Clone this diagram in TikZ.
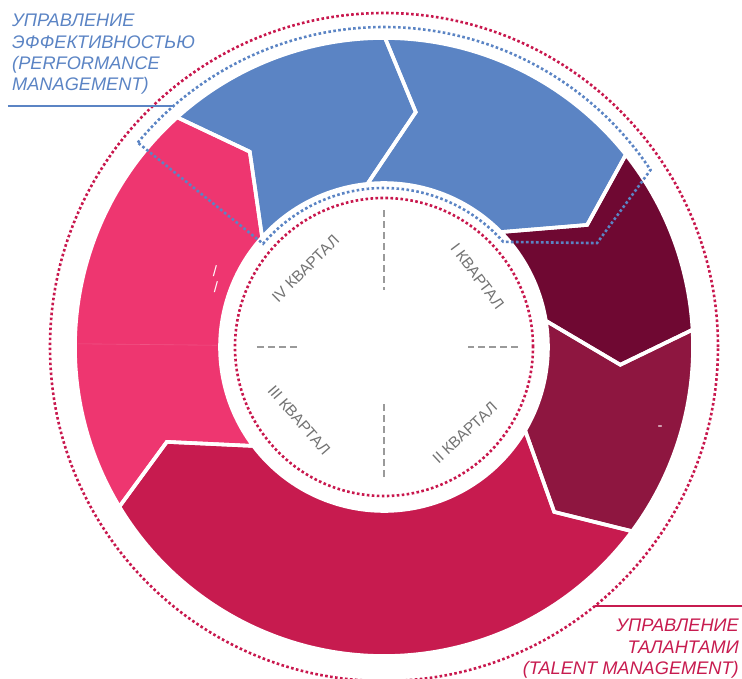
\documentclass[tikz,border=0pt]{standalone}
\usepackage{fontspec}
\setmainfont{Liberation Sans}
\usetikzlibrary{positioning}
\definecolor{perfblue}{HTML}{5B84C4}
\definecolor{winedark}{HTML}{6F0832}
\definecolor{wine}{HTML}{8E1640}
\definecolor{crimson}{HTML}{C71B4F}
\definecolor{rose}{HTML}{EE3670}
\definecolor{dotred}{HTML}{C8174D}
\definecolor{labelgray}{HTML}{737373}
\definecolor{crossgray}{HTML}{9A9A9A}

\begin{document}
\begin{tikzpicture}[x=1pt,y=1pt,
        sep/.style={draw=white,line width=3.6pt,line join=miter},
        reddots/.style={draw=dotred,line width=2.6pt,dash pattern=on 2.6pt off 2.4pt},
        bluedots/.style={draw=perfblue,line width=2.6pt,dash pattern=on 2.6pt off 2.4pt},
        cross/.style={draw=crossgray,line width=1.4pt,dash pattern=on 7pt off 4pt},
        quarter/.style={text=labelgray,font=\fontsize{15.5}{18}\selectfont,inner sep=0pt},
        heading/.style={font=\fontsize{18.2}{21.3}\selectfont\itshape,inner sep=0pt},
        ghost/.style={text=white,font=\fontsize{15}{18}\selectfont,inner sep=0pt}]

        \useasboundingbox (-384,-331) rectangle (358,347);

        % ring of chevrons, clockwise
        \foreach \from/\to/\col in {132/89.8/perfblue, 89.8/38.5/perfblue, 38.5/3.2/winedark,
                3.2/-36.6/wine, -36.6/-148.9/crimson, 211.1/132/rose}
            \fill[\col] (\from:309) arc[start angle=\from, end angle=\to, radius=309]
                -- ({\to-7.5}:237) -- ({\to+6}:164) arc[start angle={\to+6}, end angle={\from+6}, radius=164]
                -- ({\from-7.5}:237) -- cycle;
        \foreach \from/\to in {132/89.8, 89.8/38.5, 38.5/3.2, 3.2/-36.6, -36.6/-148.9, 211.1/132}
            \draw[sep] (\from:309) arc[start angle=\from, end angle=\to, radius=309]
                -- ({\to-7.5}:237) -- ({\to+6}:164) arc[start angle={\to+6}, end angle={\from+6}, radius=164]
                -- ({\from-7.5}:237) -- cycle;
        \draw[rose!85!white,line width=0.6pt] (179.4:167) -- (179.4:306);

        % performance management outline
        \draw[bluedots] (140.3:320) arc[start angle=140.3, end angle=33.6, radius=320]
            -- (26:237) -- (41.4:159) arc[start angle=41.4, end angle=139.5, radius=159] -- cycle;
        \draw[reddots] (0,0) circle[radius=334];
        \draw[reddots] (0,0) circle[radius=149];

        % quarters
        \draw[cross] (0,137) -- (0,57);
        \draw[cross] (0,-130) -- (0,-55);
        \draw[cross] (-127,0) -- (-85,0);
        \draw[cross] (134,0) -- (84,0);
        \node[quarter,rotate=-53] (q1) at (37:117) {I КВАРТАЛ};
        \node[quarter,rotate=43] (q2) at (-46.7:118) {II КВАРТАЛ};
        \node[quarter,rotate=-49] (q3) at (220.7:112) {III КВАРТАЛ};
        \node[quarter,rotate=45] (q4) at (135:111) {IV КВАРТАЛ};

        \node[ghost] (g1) at (-169,76) {/};
        \node[ghost] (g2) at (-168,60) {/};
        \node[ghost] (g3) at (276,-81) {-};

        % headings
        \node[heading,text=perfblue,align=left,anchor=north west] (perf) at (-372,333)
            {УПРАВЛЕНИЕ\\ЭФФЕКТИВНОСТЬЮ\\(PERFORMANCE\\MANAGEMENT)};
        \coordinate (perfend) at (131.2:320);
        \coordinate (perfstart) at ([xshift=-4pt]perf.west);
        \draw[perfblue,line width=2pt] (perfstart |- perfend) -- (perfend);

        \node[heading,text=crimson,align=right,anchor=north east] (talent) at (355,-272)
            {УПРАВЛЕНИЕ\\ТАЛАНТАМИ\\(TALENT MANAGEMENT)};
        \coordinate (talentend) at (-50.9:334);
        \coordinate (talentstart) at ([xshift=3pt]talent.east);
        \draw[crimson,line width=2pt] (talentend) -- (talentstart |- talentend);
    \end{tikzpicture}
\end{document}
